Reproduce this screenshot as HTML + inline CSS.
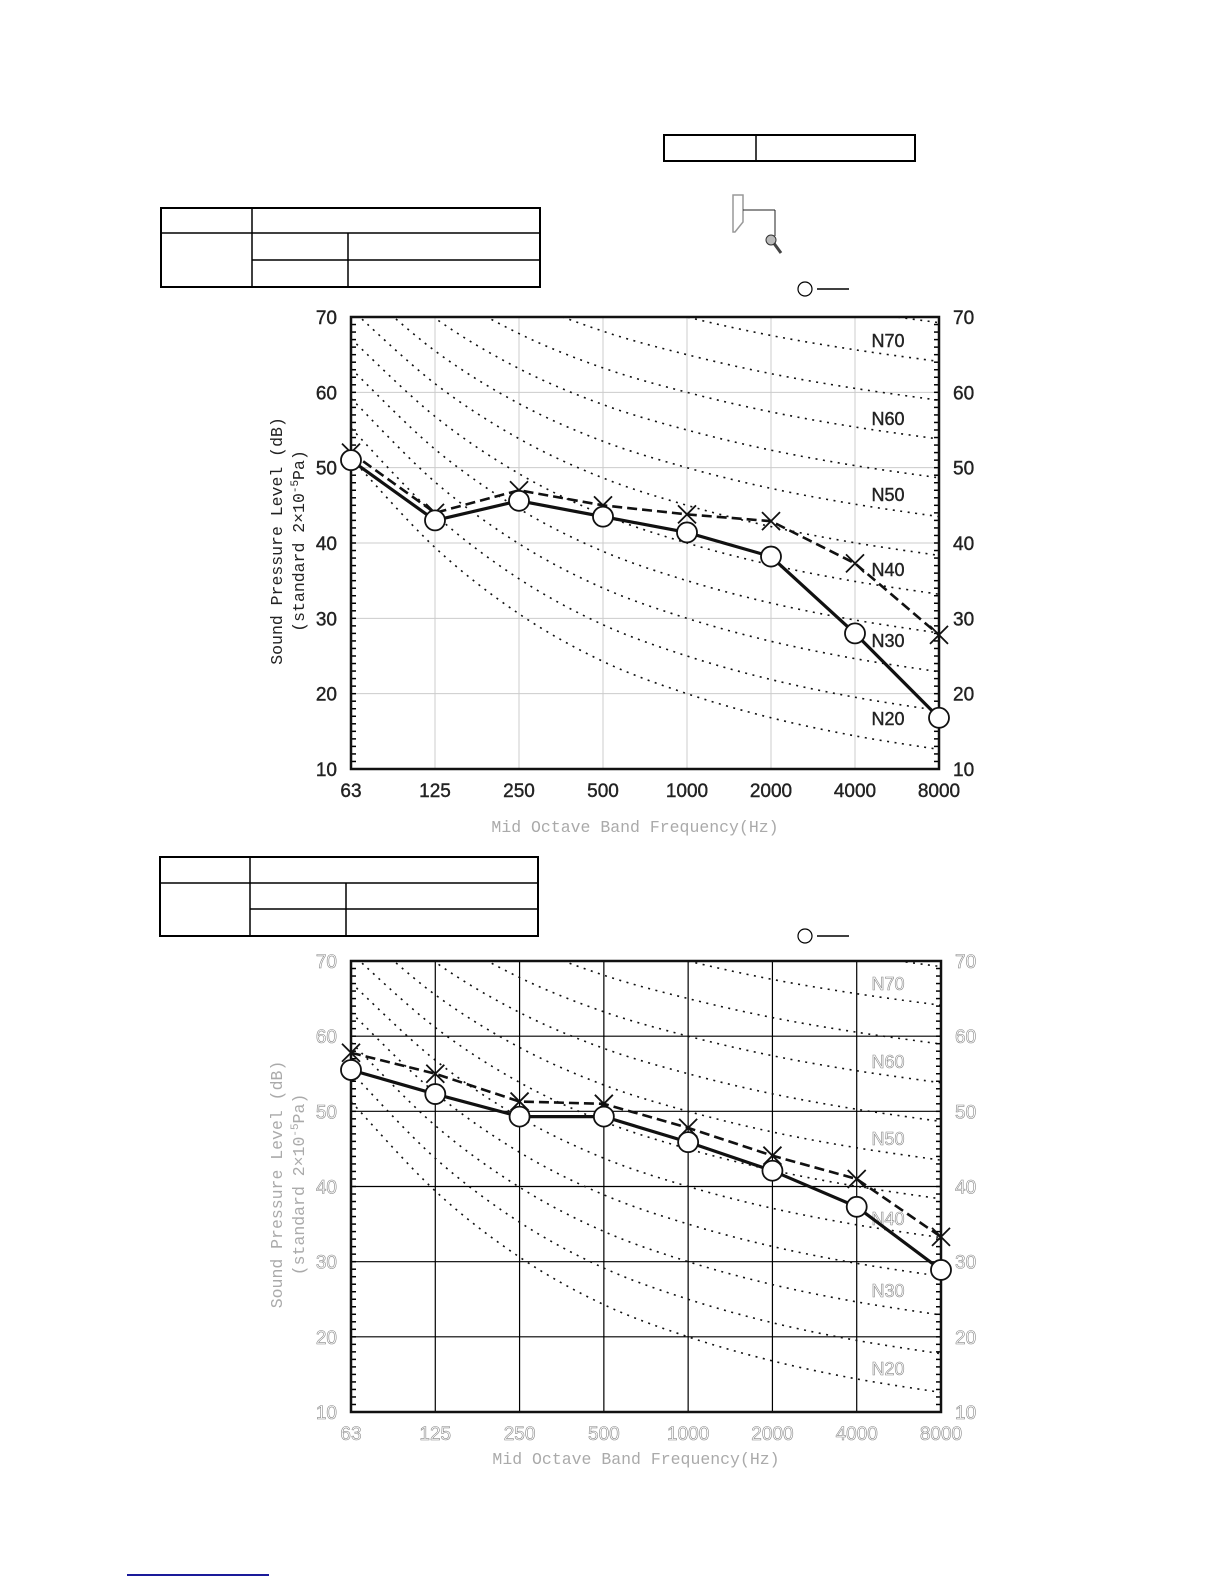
<!DOCTYPE html>
<html><head><meta charset="utf-8"><style>
html,body{margin:0;padding:0;background:#fff;}
svg{display:block;}
</style></head><body>
<svg id="s" width="1224" height="1584" xmlns="http://www.w3.org/2000/svg"></svg>
<script>
var s='';
function L(x1,y1,x2,y2,c,w,extra){s+='<line x1="'+x1+'" y1="'+y1+'" x2="'+x2+'" y2="'+y2+'" stroke="'+c+'" stroke-width="'+w+'" '+(extra||'')+'/>';}
function T(x,y,t,sz,fill,anchor,fam,extra){s+='<text x="'+x+'" y="'+y+'" font-size="'+sz+'" fill="'+fill+'" text-anchor="'+(anchor||'start')+'" font-family=\''+(fam||'"Liberation Sans Narrow","Liberation Sans",sans-serif')+'\' '+(extra||'')+'>'+t+'</text>';}
function rect(x1,y1,x2,y2,w){s+='<rect x="'+x1+'" y="'+y1+'" width="'+(x2-x1)+'" height="'+(y2-y1)+'" fill="none" stroke="#000" stroke-width="'+w+'"/>';}
rect(664,135,915,161,2);L(756,135,756,161,'#000',1.5);
rect(161,208,540,287,2);L(252,208,252,287,'#000',1.5);L(161,233,540,233,'#000',1.5);L(252,260,540,260,'#000',1.5);L(348,233,348,287,'#000',1.5);
rect(160,857,538,936,2);L(250,857,250,936,'#000',1.5);L(160,883,538,883,'#000',1.5);L(250,909,538,909,'#000',1.5);L(346,883,346,936,'#000',1.5);
s+='<path d="M733,195 L743,195 L743,222 L735,232 L733,232 Z" fill="none" stroke="#999" stroke-width="1.5"/>';
L(743,210,775,210,'#222',1);L(775,210,775,236,'#222',1);
L(773,242,781,253,'#444',3);
s+='<circle cx="771" cy="240" r="5" fill="#bbb" stroke="#333" stroke-width="1"/>';
s+='<circle cx="805" cy="289" r="7" fill="#fff" stroke="#000" stroke-width="1.2"/>';L(817,289,849,289,'#000',1.5);
s+='<circle cx="805" cy="936" r="7" fill="#fff" stroke="#000" stroke-width="1.2"/>';L(817,936,849,936,'#000',1.5);
L(127,1575,269,1575,'#1a1a9a',2);
var A=[35.5,22,12,4.8,0,-3.5,-6.1,-8],B=[0.79,0.87,0.93,0.974,1,1.015,1.025,1.03];
var freqs=['63','125','250','500','1000','2000','4000','8000'];
function chart(x0,x1,y0,y1,grid,gridW,lab,txt,circ,cross,nl){
  var dx=(x1-x0)/7,dy=(y1-y0)/60;
  function Y(v){return y0+(70-v)*dy;}
  var id='c'+y0;
  s+='<clipPath id="'+id+'"><rect x="'+x0+'" y="'+y0+'" width="'+(x1-x0)+'" height="'+(y1-y0)+'"/></clipPath>';
  for(var i=1;i<7;i++)L(x0+i*dx,y0,x0+i*dx,y1,grid,gridW);
  for(var v=20;v<70;v+=10)L(x0,Y(v),x1,Y(v),grid,gridW);
  for(var N=20;N<=80;N+=5){
    var pts=[];for(var k=0;k<8;k++)pts.push([x0+k*dx,Y(A[k]+B[k]*N)]);
    var d='M'+pts[0][0]+','+pts[0][1];
    for(var k=0;k<7;k++){
      var p0=pts[Math.max(0,k-1)],p1=pts[k],p2=pts[k+1],p3=pts[Math.min(7,k+2)];
      var c1x=p1[0]+(p2[0]-p0[0])/6,c1y=p1[1]+(p2[1]-p0[1])/6,c2x=p2[0]-(p3[0]-p1[0])/6,c2y=p2[1]-(p3[1]-p1[1])/6;
      d+=' C'+c1x+','+c1y+' '+c2x+','+c2y+' '+p2[0]+','+p2[1];
    }
    s+='<path d="'+d+'" fill="none" stroke="#111" stroke-width="1.6" stroke-dasharray="2 5.5" clip-path="url(#'+id+')"/>';
  }
  for(var v=11;v<70;v++){L(x0,Y(v),x0+5,Y(v),'#000',1.5);L(x1-5,Y(v),x1,Y(v),'#000',1.5);}
  s+='<rect x="'+x0+'" y="'+y0+'" width="'+(x1-x0)+'" height="'+(y1-y0)+'" fill="none" stroke="#111" stroke-width="2.5"/>';
  var dark=(lab=='#222');
  var ex=dark?'stroke="#222" stroke-width="0.4"':'stroke="#888" stroke-width="0.6"';
  var fc=dark?'#222':'#fff';
  for(var v=10;v<=70;v+=10){T(x0-14,Y(v)+7,v,19,fc,'end',null,ex);T(x1+14,Y(v)+7,v,19,fc,'start',null,ex);}
  for(var k=0;k<8;k++)T(x0+k*dx,y1+28,freqs[k],19,fc,'middle',null,ex);
  var names=['N70','N60','N50','N40','N30','N20'];
  for(var k=0;k<6;k++)T(888,nl[k]+7,names[k],18,fc,'middle',null,ex);
  var cy=(y0+y1)/2;
  var mono='"Liberation Mono",monospace';
  var tc=dark?'#222':'#aaa';
  T(0,0,'Sound Pressure Level (dB)',16.5,tc,'middle',mono,'transform="translate(282,'+(cy-2)+') rotate(-90)"');
  T(0,0,'(standard 2×10<tspan font-size="11" dy="-6">-5</tspan><tspan dy="6">Pa)</tspan>',16.5,tc,'middle',mono,'transform="translate(304,'+(cy-2)+') rotate(-90)"');
  T((x0+x1)/2-10,txt,'Mid Octave Band Frequency(Hz)',16.5,'#aaa','middle',mono);
  var dp='',cp='';
  for(var k=0;k<8;k++){dp+=(k?'L':'M')+(x0+k*dx)+','+Y(cross[k]);cp+=(k?'L':'M')+(x0+k*dx)+','+Y(circ[k]);}
  s+='<path d="'+dp+'" fill="none" stroke="#111" stroke-width="2.6" stroke-dasharray="10 5"/>';
  s+='<path d="'+cp+'" fill="none" stroke="#111" stroke-width="3.2"/>';
  for(var k=0;k<8;k++){var x=x0+k*dx,y=Y(cross[k]);L(x-9,y-9,x+9,y+9,'#111',1.8);L(x-9,y+9,x+9,y-9,'#111',1.8);}
  for(var k=0;k<8;k++){s+='<circle cx="'+(x0+k*dx)+'" cy="'+Y(circ[k])+'" r="10" fill="#fff" stroke="#111" stroke-width="1.8"/>';}
}
chart(351,939,317,769,'#ccc',1,'#222',832,[51,43,45.6,43.5,41.4,38.2,28,16.8],[52,44,47,45,43.8,42.9,37.3,27.8],[340,418,494,569,640,718]);
chart(351,941,961,1412,'#000',1.2,'#aaa',1464,[55.5,52.3,49.3,49.3,45.9,42.1,37.3,28.9],[57.8,55,51.3,51,47.8,44.1,41,33.3],[983,1061,1138,1218,1290,1368]);
document.getElementById('s').innerHTML=s;
</script>
</body></html>
